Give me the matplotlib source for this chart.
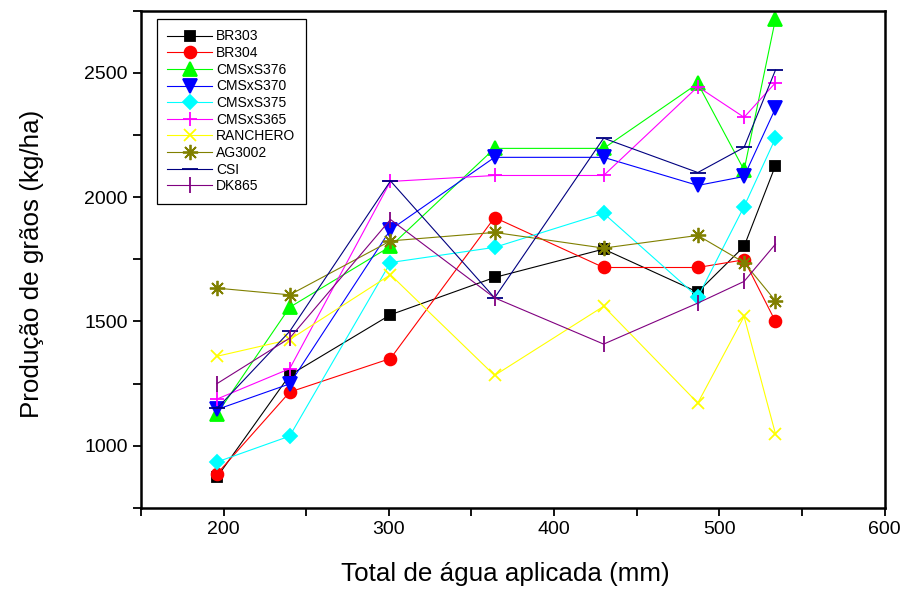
import matplotlib
matplotlib.use('Agg')
import matplotlib.pyplot as plt
from matplotlib.ticker import MultipleLocator

plt.rcParams['font.family'] = ['Liberation Sans', 'DejaVu Sans']

# total de água aplicada (mm)
agua = [196, 240, 301, 364, 430, 487, 515, 534]

br303 = [874, 1284, 1527, 1677, 1791, 1618, 1802, 2127]
br304 = [887, 1216, 1351, 1918, 1717, 1717, 1748, 1500]
cms376 = [1128, 1557, 1802, 2196, 2196, 2457, 2109, 2716]
cms370 = [1146, 1249, 1869, 2160, 2160, 2047, 2083, 2357]
cms375 = [935, 1039, 1737, 1798, 1935, 1598, 1962, 2237]
cms365 = [1188, 1310, 2063, 2087, 2087, 2444, 2321, 2460]
ranchero = [1360, 1427, 1688, 1283, 1561, 1172, 1520, 1048]
ag3002 = [1634, 1607, 1824, 1858, 1795, 1846, 1737, 1583]
csi = [1150, 1460, 2065, 1595, 2237, 2099, 2200, 2511]
dk865 = [1250, 1433, 1910, 1595, 1409, 1574, 1661, 1811]

series = [
    ('BR303', br303, 'black', 's', 7.5),
    ('BR304', br304, 'red', 'o', 8.5),
    ('CMSxS376', cms376, '#00ff00', '^', 10),
    ('CMSxS370', cms370, '#0000ff', 'v', 10),
    ('CMSxS375', cms375, '#00ffff', 'D', 7.5),
    ('CMSxS365', cms365, '#ff00ff', '+', 10),
    ('RANCHERO', ranchero, '#ffff00', 'x', 9),
    ('AG3002', ag3002, '#808000', (8, 2, 0), 11),
    ('CSI', csi, '#000080', '_', 11),
    ('DK865', dk865, '#800080', '|', 11),
]

fig = plt.figure(figsize=(9.06, 5.96), dpi=100)
ax = fig.add_axes([0.1556, 0.1477, 0.8207, 0.8345])

for name, vals, col, mk, ms in series:
    ax.plot(agua, vals, color=col, lw=0.8, marker=mk, ms=ms,
            mec=col, mfc=col, mew=1.3, label=name)

ax.set_xlim(150, 600)
ax.set_ylim(750, 2750)
ax.xaxis.set_major_locator(MultipleLocator(100))
ax.xaxis.set_minor_locator(MultipleLocator(50))
ax.yaxis.set_major_locator(MultipleLocator(500))
ax.yaxis.set_minor_locator(MultipleLocator(250))
ax.tick_params(which='both', direction='out', length=6, width=1.3,
               labelsize=14, top=False, right=False)
for s in ax.spines.values():
    s.set_linewidth(1.8)

ax.set_xlabel('Total de água aplicada (mm)', fontsize=18.7)
ax.set_ylabel('Produção de grãos (kg/ha)', fontsize=18.7)
ax.xaxis.set_label_coords(0.49, -0.108)
ax.yaxis.set_label_coords(-0.13, 0.49)

leg = ax.legend(loc='upper left', bbox_to_anchor=(0.0215, 0.983), fontsize=10,
                numpoints=1, handlelength=3.2, labelspacing=0.19,
                handletextpad=0.3, borderpad=0.75, borderaxespad=0,
                fancybox=False, edgecolor='black', framealpha=1)
leg.get_frame().set_linewidth(0.9)

plt.savefig('out.png', dpi=100)
